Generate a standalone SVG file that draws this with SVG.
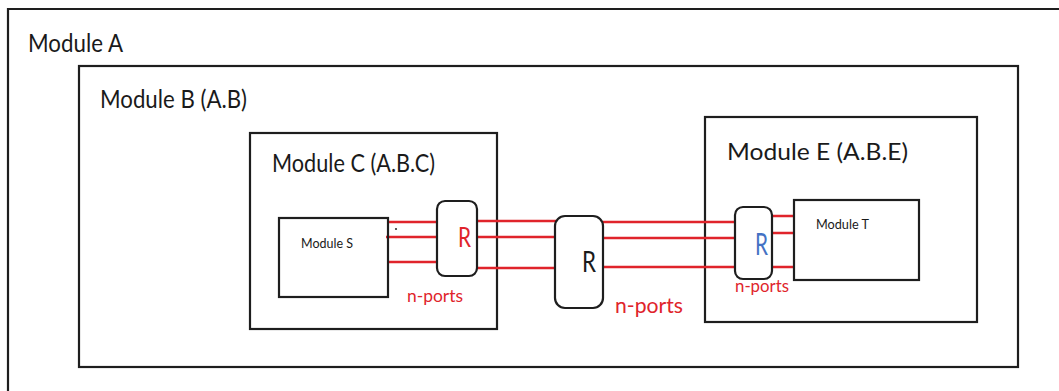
<svg xmlns="http://www.w3.org/2000/svg" width="1059" height="391" viewBox="0 0 1059 391">
<style>
.box{fill:none;stroke:#1e1e1e;stroke-width:2.2}
.rbox{fill:#fff;stroke:#1e1e1e;stroke-width:2.2}
.lbl{font-family:Lato,"Open Sans",sans-serif;fill:#1a1a1a}
.red{fill:#e0242b}
.wire{stroke:#e0242b;stroke-width:2.6;fill:none}
</style>
<rect width="1059" height="391" fill="#fff"/>
<g id="moduleA">
<path class="box" d="M8,400 V9 H1070"/>
<text class="lbl" x="28" y="52" font-size="25" textLength="95" lengthAdjust="spacingAndGlyphs">Module A</text>
</g>
<g id="moduleB">
<rect class="box" x="79" y="66" width="939" height="301"/>
<text class="lbl" x="100" y="108" font-size="25" textLength="147" lengthAdjust="spacingAndGlyphs">Module B (A.B)</text>
</g>
<g id="moduleC">
<rect class="box" x="250" y="133" width="247" height="196"/>
<text class="lbl" x="272" y="172" font-size="25" textLength="163" lengthAdjust="spacingAndGlyphs">Module C (A.B.C)</text>
</g>
<g id="moduleE">
<rect class="box" x="705" y="117" width="272" height="205"/>
<text class="lbl" x="727" y="160" font-size="24" textLength="181" lengthAdjust="spacingAndGlyphs">Module E (A.B.E)</text>
</g>
<g id="connectors">
<path class="wire" d="M388,222 H437 M386,237 H437 M388,262 H437"/>
<path class="wire" d="M477,221 H556 M477,237 H556 M477,268 H556"/>
<path class="wire" d="M603,222 H735 M603,238 H735 M603,267 H735"/>
<path class="wire" d="M772,216 H796 M772,233 H796 M772,267 H796"/>
</g>
<g id="moduleS">
<rect class="box" x="279" y="218" width="109" height="79"/>
<text class="lbl" x="301" y="248" font-size="13" textLength="52" lengthAdjust="spacingAndGlyphs">Module S</text>
<circle cx="396" cy="229" r="1.1" fill="#333"/>
</g>
<g id="router1">
<rect class="rbox" x="437" y="201" width="40" height="75" rx="8"/>
<text class="lbl red" x="458" y="247" font-size="26" textLength="13" lengthAdjust="spacingAndGlyphs">R</text>
<text class="lbl red" x="407" y="302" font-size="17" textLength="56" lengthAdjust="spacingAndGlyphs">n-ports</text>
</g>
<g id="router2">
<rect class="rbox" x="555" y="216" width="48" height="92" rx="10"/>
<text class="lbl" x="582" y="272" font-size="29" textLength="14" lengthAdjust="spacingAndGlyphs">R</text>
<text class="lbl red" x="615" y="313" font-size="22" textLength="68" lengthAdjust="spacingAndGlyphs">n-ports</text>
</g>
<g id="router3">
<rect class="rbox" x="735" y="207" width="37" height="72" rx="8"/>
<text class="lbl" fill="#4472c4" x="755" y="255" font-size="30" textLength="13" lengthAdjust="spacingAndGlyphs" style="fill:#4472c4">R</text>
<text class="lbl red" x="735" y="292" font-size="17" textLength="54" lengthAdjust="spacingAndGlyphs">n-ports</text>
</g>
<g id="moduleT">
<rect class="rbox" x="794" y="200" width="125" height="80"/>
<text class="lbl" x="816" y="229" font-size="13" textLength="53" lengthAdjust="spacingAndGlyphs">Module T</text>
</g>
</svg>
